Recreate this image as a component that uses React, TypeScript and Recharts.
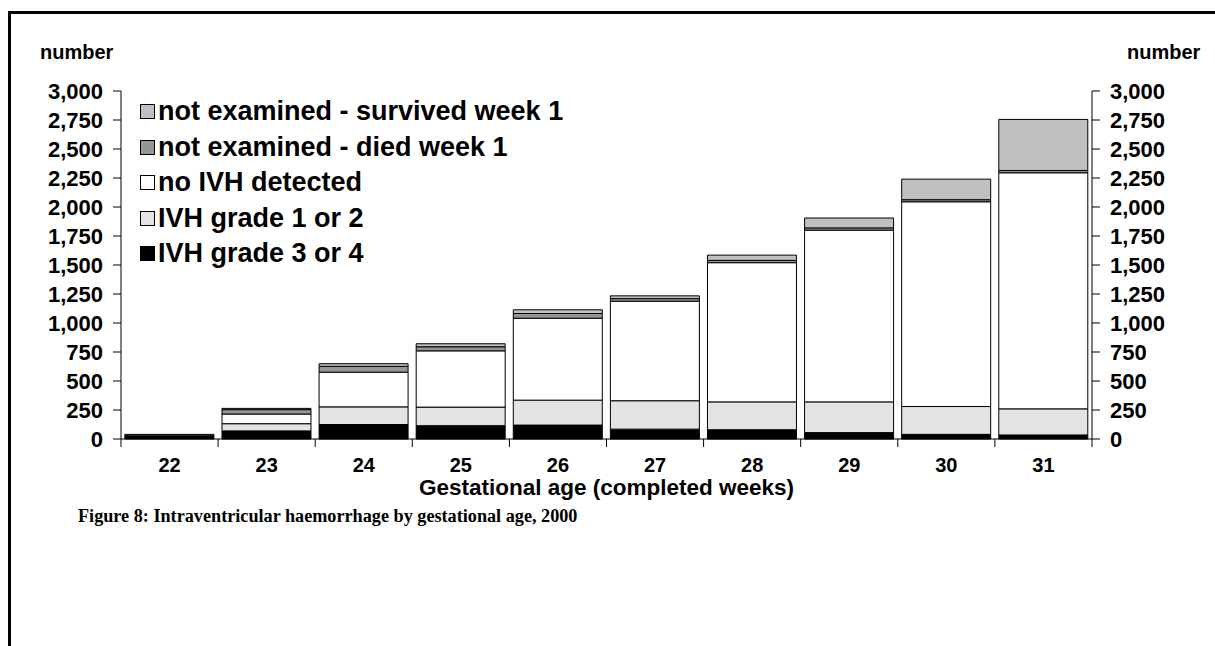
import { Bar, ComposedChart, Legend, Line, XAxis, YAxis } from "recharts";

const ages = [22, 23, 24, 25, 26, 27, 28, 29, 30, 31];
const ivh34 = [22, 70, 125, 115, 120, 85, 80, 55, 40, 35];
const ivh12 = [3, 62, 152, 160, 215, 245, 240, 265, 240, 225];
const noIvh = [3, 83, 299, 485, 706, 858, 1200, 1480, 1765, 2035];
const diedWeek1 = [12, 38, 50, 35, 41, 22, 20, 20, 18, 20];
const survivedWeek1 = [0, 11, 23, 26, 32, 24, 45, 85, 177, 440];
const yTicks = [0, 250, 500, 750, 1000, 1250, 1500, 1750, 2000, 2250, 2500, 2750, 3000];

const series = [
  { key: "ivh34", name: "IVH grade 3 or 4", color: "#000000" },
  { key: "ivh12", name: "IVH grade 1 or 2", color: "#e3e3e3" },
  { key: "noIvh", name: "no IVH detected", color: "#ffffff" },
  { key: "died", name: "not examined - died week 1", color: "#969696" },
  { key: "survived", name: "not examined - survived week 1", color: "#c0c0c0" },
];

const data = ages.map((age, i) => ({
  label: String(age),
  ivh34: ivh34[i],
  ivh12: ivh12[i],
  noIvh: noIvh[i],
  died: diedWeek1[i],
  survived: survivedWeek1[i],
  total: ivh34[i] + ivh12[i] + noIvh[i] + diedWeek1[i] + survivedWeek1[i],
}));

const SANS = "'Liberation Sans', Arial, sans-serif";
const tickStyle = { fill: "#000", fontSize: 22, fontWeight: 700, fontFamily: SANS };
const fmt = (v: number) => v.toLocaleString("en-US");

// week label, with the tick marks drawn on the borders between columns
function WeekTick(props: any) {
  const { x, y, payload, visibleTicksCount, width } = props;
  const half = payload.offset || width / visibleTicksCount / 2;
  const last = payload.index === visibleTicksCount - 1;
  return (
    <g>
      <line x1={x - half} x2={x - half} y1={y} y2={y + 8} stroke="#000" />
      {last && <line x1={x + half} x2={x + half} y1={y} y2={y + 8} stroke="#000" />}
      <text
        x={x}
        y={y + 26}
        textAnchor="middle"
        dominantBaseline="central"
        fill="#000"
        fontSize={20}
        fontWeight={700}
        fontFamily={SANS}
      >
        {payload.value}
      </text>
    </g>
  );
}

function LegendList() {
  return (
    <div style={{ fontFamily: SANS, fontWeight: 700, fontSize: 27, color: "#000" }}>
      {[...series].reverse().map((s) => (
        <div key={s.key} style={{ display: "flex", alignItems: "center", height: 35.5, whiteSpace: "nowrap" }}>
          <span
            style={{
              display: "inline-block",
              width: 13,
              height: 13,
              background: s.color,
              border: "1px solid #000",
              marginRight: 3,
            }}
          />
          {s.name}
        </div>
      ))}
    </div>
  );
}

export default function App() {
  return (
    <div
      style={{
        position: "absolute",
        left: 0,
        top: 0,
        width: 1215,
        height: 646,
        overflow: "hidden",
        background: "#fff",
      }}
    >
      <div
        style={{
          position: "absolute",
          left: 8,
          top: 11,
          width: 1300,
          height: 700,
          borderLeft: "3px solid #000",
          borderTop: "3px solid #000",
        }}
      />
      <ComposedChart
        width={1215}
        height={646}
        data={data}
        margin={{ top: 91, right: 23, bottom: 177, left: 21 }}
        barCategoryGap="4%"
        style={{ position: "absolute", left: 0, top: 0 }}
      >
        <XAxis
          dataKey="label"
          interval={0}
          height={30}
          axisLine={{ stroke: "#000" }}
          tickLine={false}
          tickSize={0}
          tickMargin={0}
          tick={<WeekTick />}
        />
        <YAxis
          yAxisId="left"
          domain={[0, 3000]}
          ticks={yTicks}
          interval={0}
          tickFormatter={fmt}
          width={100}
          tickSize={8}
          tickMargin={10}
          axisLine={{ stroke: "#000" }}
          tickLine={{ stroke: "#000" }}
          tick={tickStyle}
        />
        <YAxis
          yAxisId="right"
          orientation="right"
          domain={[0, 3000]}
          ticks={yTicks}
          interval={0}
          tickFormatter={fmt}
          width={100}
          tickSize={8}
          tickMargin={10}
          axisLine={{ stroke: "#000" }}
          tickLine={{ stroke: "#000" }}
          tick={tickStyle}
        />
        <Legend
          layout="vertical"
          align="center"
          verticalAlign="middle"
          content={() => <LegendList />}
          wrapperStyle={{ left: 140, top: 94, width: 520 }}
        />
        {series.map((s) => (
          <Bar
            key={s.key}
            dataKey={s.key}
            name={s.name}
            stackId="a"
            yAxisId="left"
            fill={s.color}
            stroke="#000"
            strokeWidth={1}
            isAnimationActive={false}
          />
        ))}
        {/* invisible series so the right-hand axis gets its scale */}
        <Line
          yAxisId="right"
          dataKey="total"
          stroke="#000"
          strokeOpacity={0}
          dot={false}
          activeDot={false}
          legendType="none"
          isAnimationActive={false}
        />
      </ComposedChart>
      <div
        style={{
          position: "absolute",
          left: 40,
          top: 42,
          fontFamily: SANS,
          fontWeight: 700,
          fontSize: 20,
          lineHeight: "20px",
        }}
      >
        number
      </div>
      <div
        style={{
          position: "absolute",
          left: 1127,
          top: 42,
          fontFamily: SANS,
          fontWeight: 700,
          fontSize: 20,
          lineHeight: "20px",
        }}
      >
        number
      </div>
      <div
        style={{
          position: "absolute",
          left: 121,
          width: 971,
          top: 478,
          textAlign: "center",
          fontFamily: SANS,
          fontWeight: 700,
          fontSize: 22.5,
          lineHeight: "20px",
        }}
      >
        Gestational age (completed weeks)
      </div>
      <div
        style={{
          position: "absolute",
          left: 78,
          top: 507,
          fontFamily: "'Liberation Serif', 'Times New Roman', serif",
          fontWeight: 700,
          fontSize: 18.2,
          lineHeight: "18px",
          whiteSpace: "nowrap",
        }}
      >
        Figure 8: Intraventricular haemorrhage by gestational age, 2000
      </div>
    </div>
  );
}
